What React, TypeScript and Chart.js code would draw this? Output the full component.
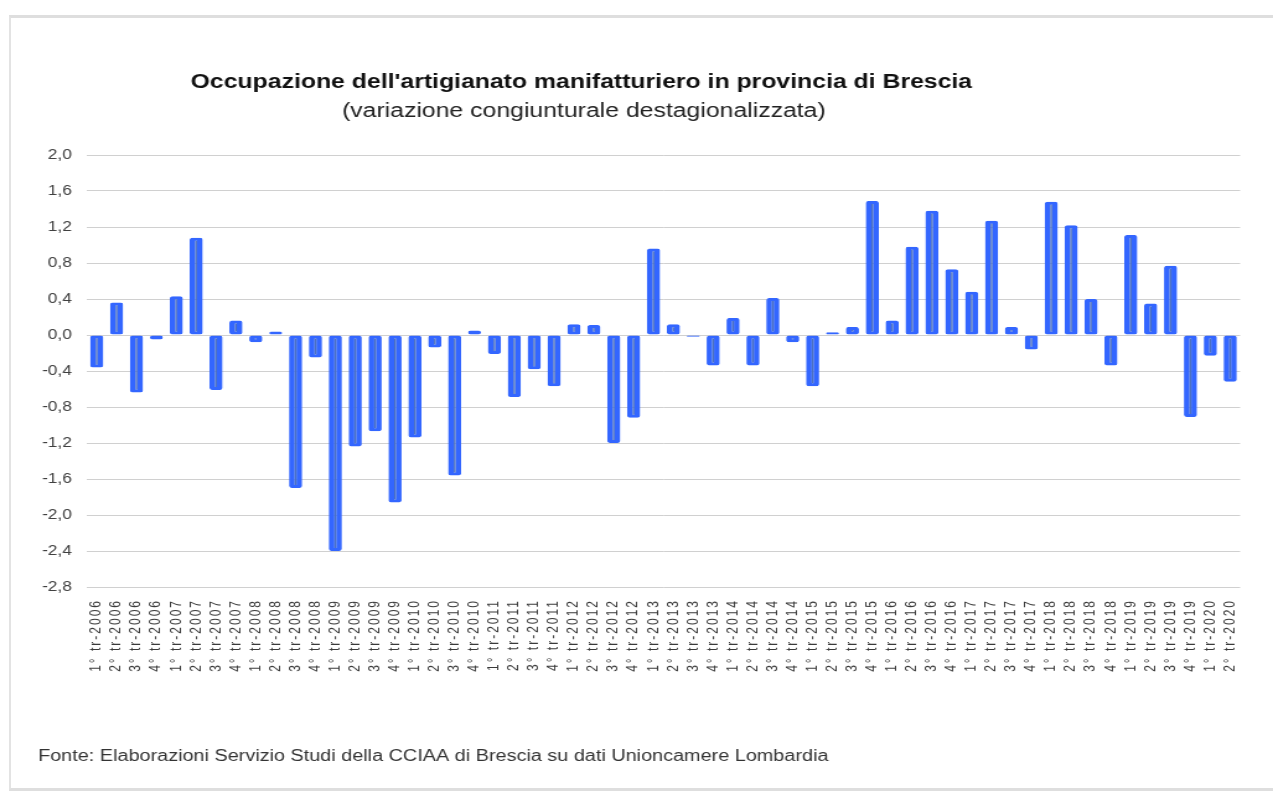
import React, { useEffect, useRef } from 'react';
import { Chart, registerables } from 'chart.js';

Chart.register(...registerables);

const categories = [
  '1° tr-2006', '2° tr-2006', '3° tr-2006', '4° tr-2006',
  '1° tr-2007', '2° tr-2007', '3° tr-2007', '4° tr-2007',
  '1° tr-2008', '2° tr-2008', '3° tr-2008', '4° tr-2008',
  '1° tr-2009', '2° tr-2009', '3° tr-2009', '4° tr-2009',
  '1° tr-2010', '2° tr-2010', '3° tr-2010', '4° tr-2010',
  '1° tr-2011', '2° tr-2011', '3° tr-2011', '4° tr-2011',
  '1° tr-2012', '2° tr-2012', '3° tr-2012', '4° tr-2012',
  '1° tr-2013', '2° tr-2013', '3° tr-2013', '4° tr-2013',
  '1° tr-2014', '2° tr-2014', '3° tr-2014', '4° tr-2014',
  '1° tr-2015', '2° tr-2015', '3° tr-2015', '4° tr-2015',
  '1° tr-2016', '2° tr-2016', '3° tr-2016', '4° tr-2016',
  '1° tr-2017', '2° tr-2017', '3° tr-2017', '4° tr-2017',
  '1° tr-2018', '2° tr-2018', '3° tr-2018', '4° tr-2018',
  '1° tr-2019', '2° tr-2019', '3° tr-2019', '4° tr-2019',
  '1° tr-2020', '2° tr-2020',
];

const values = [
  -0.36, 0.36, -0.64, -0.05,
  0.43, 1.08, -0.61, 0.16,
  -0.08, 0.04, -1.7, -0.25,
  -2.4, -1.24, -1.07, -1.86,
  -1.14, -0.14, -1.56, 0.05,
  -0.21, -0.69, -0.38, -0.57,
  0.12, 0.11, -1.2, -0.92,
  0.96, 0.12, -0.02, -0.34,
  0.19, -0.34, 0.41, -0.08,
  -0.57, 0.03, 0.09, 1.49,
  0.16, 0.98, 1.38, 0.73,
  0.48, 1.27, 0.09, -0.16,
  1.48, 1.22, 0.4, -0.34,
  1.11, 0.35, 0.77, -0.91,
  -0.23, -0.52,
];

const yTickValues = [-2.8, -2.4, -2.0, -1.6, -1.2, -0.8, -0.4, 0, 0.4, 0.8, 1.2, 1.6, 2.0];
const yTickLabels = ['-2,8', '-2,4', '-2,0', '-1,6', '-1,2', '-0,8', '-0,4', '0,0', '0,4', '0,8', '1,2', '1,6', '2,0'];

const titleText = "Occupazione dell'artigianato manifatturiero in provincia di Brescia";
const subtitleText = '(variazione congiunturale destagionalizzata)';
const footerText = 'Fonte: Elaborazioni Servizio Studi della CCIAA di Brescia su dati Unioncamere Lombardia';

const FONT = '"Liberation Sans", Arial, Helvetica, sans-serif';
const CSS_W = 1273;
const H = 792;
const STRETCH = 1.2395;
const W = Math.round(CSS_W / STRETCH);

const textPlugin = {
  id: 'texts',
  afterDraw(chart: any) {
    const ctx = chart.ctx;
    ctx.save();
    ctx.textBaseline = 'alphabetic';
    ctx.textAlign = 'center';
    ctx.fillStyle = '#111111';
    ctx.font = `bold 20px ${FONT}`;
    ctx.fillText(titleText, 469, 88);
    ctx.fillStyle = '#222222';
    ctx.font = `20px ${FONT}`;
    ctx.fillText(subtitleText, 471, 117);
    ctx.textAlign = 'left';
    ctx.fillStyle = '#333333';
    ctx.font = `16px ${FONT}`;
    ctx.fillText(footerText, 30.7, 761);
    ctx.restore();
  },
};

const spacingPlugin = {
  id: 'xLabelSpacing',
  beforeDraw(chart: any) {
    const sc: any = chart.scales.x;
    if (sc && !sc.__spaced) {
      const orig = sc.drawLabels;
      sc.drawLabels = function (area: any) {
        const c = this.ctx;
        const prev = c.letterSpacing;
        c.letterSpacing = '2px';
        orig.call(this, area);
        c.letterSpacing = prev;
      };
      sc.__spaced = true;
    }
  },
};

export default function App() {
  const ref = useRef<HTMLCanvasElement | null>(null);

  useEffect(() => {
    if (!ref.current) return;
    const chart = new Chart(ref.current, {
      type: 'bar',
      data: {
        labels: categories,
        datasets: [
          {
            data: values,
            backgroundColor: '#4a6fc0',
            borderColor: '#3366FF',
            borderWidth: { left: 4.6, right: 4.6, top: 3, bottom: 3 },
            borderSkipped: false,
            borderRadius: 2,
            barPercentage: 0.66,
            categoryPercentage: 1,
          } as any,
        ],
      },
      options: {
        responsive: false,
        animation: false,
        devicePixelRatio: 1,
        layout: { padding: { top: 155, right: 26.5, bottom: 0, left: 0 } },
        plugins: {
          legend: { display: false },
          tooltip: { enabled: false },
          title: { display: false },
        },
        scales: {
          x: {
            grid: { display: false, drawTicks: false },
            border: { display: false },
            ticks: {
              autoSkip: false,
              minRotation: 90,
              maxRotation: 90,
              padding: 12,
              color: '#3a3a3a',
              font: { family: FONT, size: 12 },
            },
            afterFit: (s: any) => {
              s.height = 205;
            },
          },
          y: {
            min: -2.8,
            max: 2.0,
            grid: { color: '#d0d0d0', lineWidth: 1, drawTicks: false },
            border: { display: false },
            ticks: {
              padding: 12,
              color: '#404040',
              font: { family: FONT, size: 14 },
              callback: (_v: any, i: number) => yTickLabels[i],
            },
            afterBuildTicks: (s: any) => {
              s.ticks = yTickValues.map((v) => ({ value: v }));
            },
            afterFit: (s: any) => {
              s.width = 70;
            },
          },
        },
      } as any,
      plugins: [textPlugin, spacingPlugin],
    });
    return () => chart.destroy();
  }, []);

  return (
    <div style={{ position: 'fixed', left: 0, top: 0, width: CSS_W, height: H, background: '#ffffff' }}>
      <canvas
        ref={ref}
        width={W}
        height={H}
        style={{ width: CSS_W, height: H, display: 'block' }}
      />
      <div
        style={{
          position: 'absolute',
          left: 9,
          top: 15,
          width: CSS_W - 9,
          height: 776,
          boxSizing: 'border-box',
          borderTop: '3px solid #dedede',
          borderLeft: '2px solid #e3e3e3',
          borderBottom: '3px solid #dedede',
          pointerEvents: 'none',
        }}
      />
    </div>
  );
}
